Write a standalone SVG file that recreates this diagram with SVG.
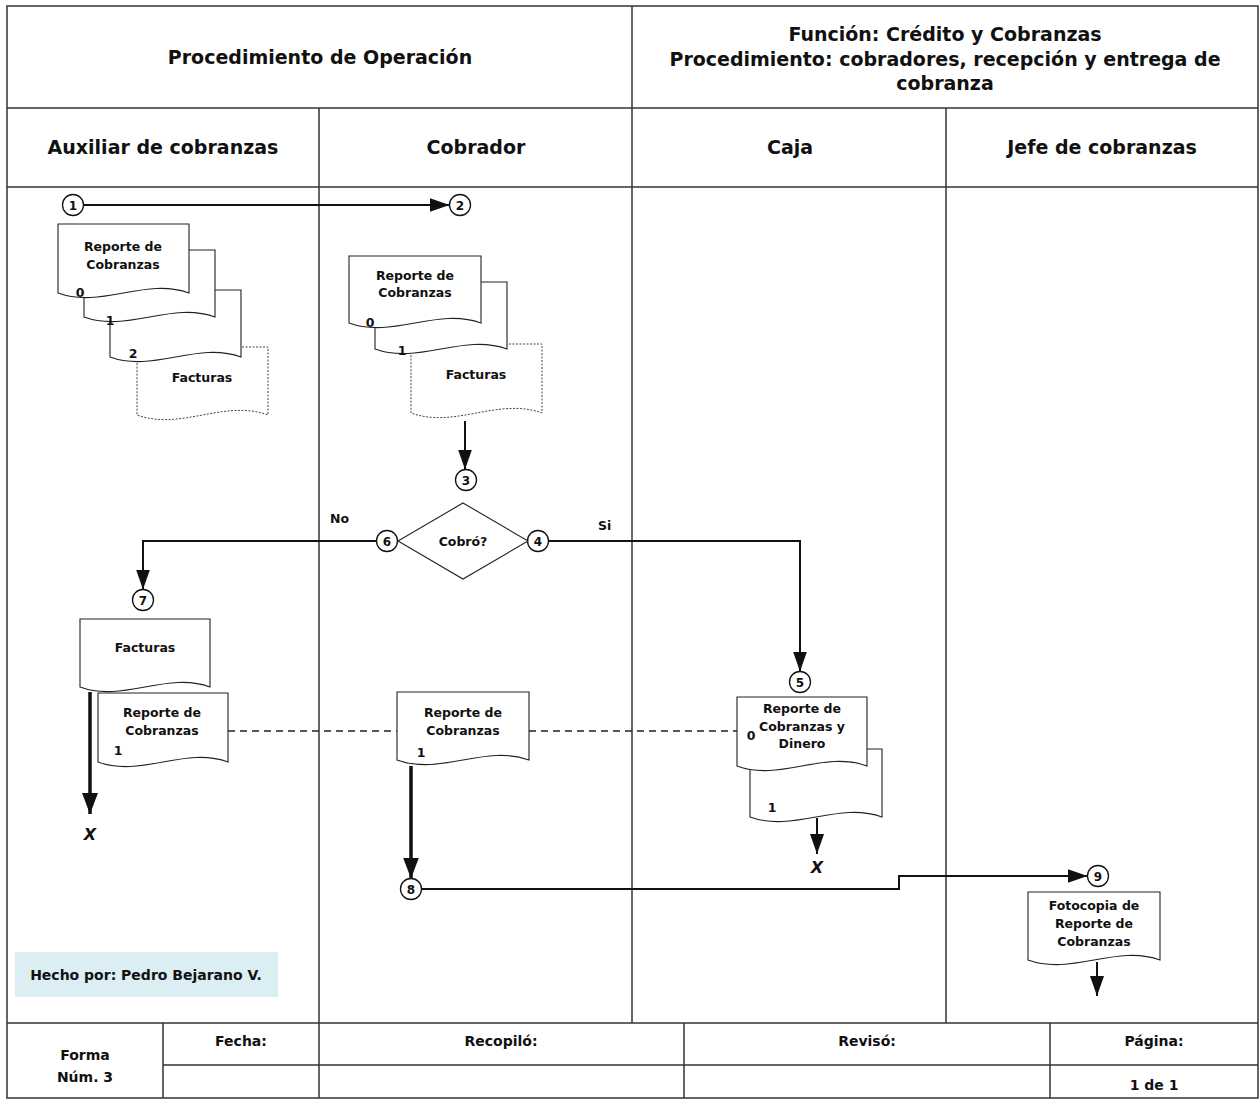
<svg xmlns="http://www.w3.org/2000/svg" width="1260" height="1099" viewBox="0 0 1260 1099">
<style>
text{font-family:"DejaVu Sans","Liberation Sans",sans-serif;font-weight:bold;fill:#111}
.hd{font-size:19px;text-anchor:middle}
.ft{font-size:14px;text-anchor:middle}
.dt{font-size:12.5px;text-anchor:middle}
.nm{font-size:12.5px;text-anchor:middle}
.cn{font-size:12px;text-anchor:middle}
.lb{font-size:12.5px}
.x{font-size:16px;font-style:italic;text-anchor:middle}
.grid{stroke:#333;stroke-width:1.5;fill:none}
.doc{fill:#fff;stroke:#222;stroke-width:1.1}
.dot{fill:#fff;stroke:#444;stroke-width:1;stroke-dasharray:2,1.5}
.circ{fill:#fff;stroke:#111;stroke-width:1.3}
.con{fill:none;stroke:#111;stroke-width:2}
.thk{fill:none;stroke:#111;stroke-width:3.5}
.dash{fill:none;stroke:#222;stroke-width:1.3;stroke-dasharray:7,5}
</style>
<defs>
<marker id="arr" viewBox="0 0 20 14" refX="20" refY="7" markerWidth="20" markerHeight="14" markerUnits="userSpaceOnUse" orient="auto"><path d="M0,0 L20,7 L0,14 Z" fill="#111"/></marker>
<marker id="arrT" viewBox="0 0 21 16" refX="21" refY="8" markerWidth="21" markerHeight="16" markerUnits="userSpaceOnUse" orient="auto"><path d="M0,0 L21,8 L0,16 Z" fill="#111"/></marker>
</defs>
<rect width="1260" height="1099" fill="#fff"/>

<g id="frame">
<rect class="grid" x="7" y="6" width="1251" height="1092"/>
<line class="grid" x1="7" y1="108" x2="1258" y2="108"/>
<line class="grid" x1="7" y1="187" x2="1258" y2="187"/>
<line class="grid" x1="632" y1="6" x2="632" y2="1023"/>
<line class="grid" x1="319" y1="108" x2="319" y2="1098"/>
<line class="grid" x1="946" y1="108" x2="946" y2="1023"/>
<line class="grid" x1="7" y1="1023" x2="1258" y2="1023"/>
<line class="grid" x1="163" y1="1065" x2="1258" y2="1065"/>
<line class="grid" x1="163" y1="1023" x2="163" y2="1098"/>
<line class="grid" x1="684" y1="1023" x2="684" y2="1098"/>
<line class="grid" x1="1050" y1="1023" x2="1050" y2="1098"/>
<text class="hd" x="320" y="64">Procedimiento de Operación</text>
<text class="hd" x="945" y="41">Función: Crédito y Cobranzas</text>
<text class="hd" x="945" y="66">Procedimiento: cobradores, recepción y entrega de</text>
<text class="hd" x="945" y="90">cobranza</text>
<text class="hd" x="163" y="154">Auxiliar de cobranzas</text>
<text class="hd" x="476" y="154">Cobrador</text>
<text class="hd" x="790" y="154">Caja</text>
<text class="hd" x="1102" y="154">Jefe de cobranzas</text>
<text class="ft" x="85" y="1060">Forma</text>
<text class="ft" x="85" y="1082">Núm. 3</text>
<text class="ft" x="241" y="1046">Fecha:</text>
<text class="ft" x="501" y="1046">Recopiló:</text>
<text class="ft" x="867" y="1046">Revisó:</text>
<text class="ft" x="1154" y="1046">Página:</text>
<text class="ft" x="1154" y="1090">1 de 1</text>
</g>

<g id="connectors">
<path class="con" d="M84,205 H449.5" marker-end="url(#arr)"/>
<path class="con" d="M465,421 V469.5" marker-end="url(#arr)"/>
<path class="con" d="M376,541 H143 V589.5" marker-end="url(#arr)"/>
<path class="con" d="M548.5,541 H800 V671.5" marker-end="url(#arr)"/>
<path class="thk" d="M90,692 V814" marker-end="url(#arrT)"/>
<path class="thk" d="M411,766 V878.5" marker-end="url(#arrT)"/>
<path class="con" d="M421.5,889 H899 V876 H1087.5" marker-end="url(#arr)"/>
<path class="con" d="M817,818 V854" marker-end="url(#arr)"/>
<path class="con" d="M1097,962 V996" marker-end="url(#arr)"/>
<path class="dash" d="M228,731 H397 M529,731 H737"/>
<text class="lb" x="330" y="523">No</text>
<text class="lb" x="598" y="530">Si</text>
<text class="x" x="90" y="840">X</text>
<text class="x" x="817" y="873">X</text>
</g>

<g id="n1"><circle class="circ" cx="73" cy="205" r="10.5"/><text class="cn" x="73" y="209.5">1</text></g>
<g id="n2"><circle class="circ" cx="460" cy="205" r="10.5"/><text class="cn" x="460" y="209.5">2</text></g>
<g id="n3"><circle class="circ" cx="466" cy="480" r="10.5"/><text class="cn" x="466" y="484.5">3</text></g>
<g id="n4"><circle class="circ" cx="538" cy="541" r="10.5"/><text class="cn" x="538" y="545.5">4</text></g>
<g id="n5"><circle class="circ" cx="800" cy="682" r="10.5"/><text class="cn" x="800" y="686.5">5</text></g>
<g id="n6"><circle class="circ" cx="387" cy="541" r="10.5"/><text class="cn" x="387" y="545.5">6</text></g>
<g id="n7"><circle class="circ" cx="143" cy="600" r="10.5"/><text class="cn" x="143" y="604.5">7</text></g>
<g id="n8"><circle class="circ" cx="411" cy="889" r="10.5"/><text class="cn" x="411" y="893.5">8</text></g>
<g id="n9"><circle class="circ" cx="1098" cy="876" r="10.5"/><text class="cn" x="1098" y="880.5">9</text></g>

<g id="doc-aux-stack">
<path class="dot" d="M137,347 H268 V415 C224,399 181,431 137,415 Z"/>
<path class="doc" d="M110,290 H241 V357 C197,341 154,373 110,357 Z"/>
<path class="doc" d="M84,250 H215 V317 C171,301 128,333 84,317 Z"/>
<path class="doc" d="M58,224 H189 V293 C145,277 102,309 58,293 Z"/>
<text class="dt" x="123" y="251">Reporte de</text>
<text class="dt" x="123" y="269">Cobranzas</text>
<text class="nm" x="80" y="297">0</text>
<text class="nm" x="110" y="325">1</text>
<text class="nm" x="133" y="358">2</text>
<text class="dt" x="202" y="382">Facturas</text>
</g>

<g id="doc-cob-stack">
<path class="dot" d="M411,344 H542 V413 C498,397 455,429 411,413 Z"/>
<path class="doc" d="M375,282 H507 V349 C463,333 419,365 375,349 Z"/>
<path class="doc" d="M349,256 H481 V323 C437,307 393,339 349,323 Z"/>
<text class="dt" x="415" y="280">Reporte de</text>
<text class="dt" x="415" y="297">Cobranzas</text>
<text class="nm" x="370" y="327">0</text>
<text class="nm" x="402" y="355">1</text>
<text class="dt" x="476" y="379">Facturas</text>
</g>

<g id="decision">
<path d="M463,503 L528,541 L463,579 L398,541 Z" fill="#fff" stroke="#222" stroke-width="1.1"/>
<text class="dt" x="463" y="545.5">Cobró?</text>
</g>

<g id="doc-aux-bottom">
<path class="doc" d="M98,693 H228 V762 C185,746 141,778 98,762 Z"/>
<path class="doc" d="M80,619 H210 V687 C167,671 123,703 80,687 Z"/>
<text class="dt" x="145" y="652">Facturas</text>
<text class="dt" x="162" y="717">Reporte de</text>
<text class="dt" x="162" y="735">Cobranzas</text>
<text class="nm" x="118" y="755">1</text>
</g>

<g id="doc-cob-bottom">
<path class="doc" d="M397,692 H529 V760 C485,744 441,776 397,760 Z"/>
<text class="dt" x="463" y="717">Reporte de</text>
<text class="dt" x="463" y="735">Cobranzas</text>
<text class="nm" x="421" y="757">1</text>
</g>

<g id="doc-caja">
<path class="doc" d="M750,749 H882 V817 C838,801 794,833 750,817 Z"/>
<path class="doc" d="M737,697 H867 V766 C824,750 780,782 737,766 Z"/>
<text class="dt" x="802" y="713">Reporte de</text>
<text class="dt" x="802" y="731">Cobranzas y</text>
<text class="dt" x="802" y="748">Dinero</text>
<text class="nm" x="751" y="740">0</text>
<text class="nm" x="772" y="812">1</text>
</g>

<g id="doc-jefe">
<path class="doc" d="M1028,892 H1160 V960 C1116,944 1072,976 1028,960 Z"/>
<text class="dt" x="1094" y="910">Fotocopia de</text>
<text class="dt" x="1094" y="928">Reporte de</text>
<text class="dt" x="1094" y="946">Cobranzas</text>
</g>

<g id="hecho">
<rect x="15" y="952" width="263" height="45" fill="#DAEEF3"/>
<text class="ft" x="146" y="980">Hecho por: Pedro Bejarano V.</text>
</g>
</svg>
